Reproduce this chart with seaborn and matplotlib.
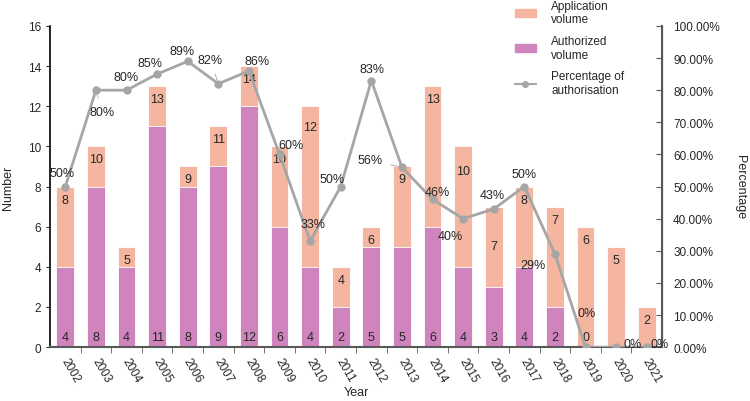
import numpy as np
import pandas as pd
import seaborn as sns
import matplotlib.pyplot as plt
import matplotlib.transforms as mtransforms
from matplotlib.patches import Patch
from matplotlib.lines import Line2D
from matplotlib.ticker import FixedLocator, PercentFormatter

years = [str(y) for y in range(2002, 2022)]
application = [8, 10, 5, 13, 9, 11, 14, 10, 12, 4, 6, 9, 13, 10, 7, 8, 7, 6, 5, 2]
authorized = [4, 8, 4, 11, 8, 9, 12, 6, 4, 2, 5, 5, 6, 4, 3, 4, 2, 0, 0, 0]
percentage = [50, 80, 80, 85, 89, 82, 86, 60, 33, 50, 83, 56, 46, 40, 43, 50, 29, 0, 0, 0]

# label placement (pixel offsets from the point)
pct_offsets = [(-3, 14), (6, -22), (0, 13), (-7, 11), (-6, 10), (-8, 24), (8, 10),
               (11, 9), (3, 17), (-9, 8), (1, 12), (-32, 7), (5, 7), (-13, -17),
               (-1, 14), (0, 13), (-22, -11), (1, 34), (16, 3), (13, 3)]
pct_leader = {1, 5, 11, 13, 16, 18}
top_drop = {8: 21, 13: 25, 14: 39}

df = pd.DataFrame({"year": years, "application": application,
                   "authorized": authorized, "percentage": percentage})
df["idx"] = np.arange(len(df))

plt.rcParams["font.family"] = ["Liberation Sans", "DejaVu Sans"]
text_c = "#262626"
app_c = "#F4B6A0"
aut_c = "#D084BE"
line_c = "#A6A6A6"
fs = 9

fig = plt.figure(figsize=(7.5, 4.02), dpi=100)
ax = fig.add_axes([0.0667, 0.134, 0.816, 0.799])

sns.barplot(data=df, x="year", y="application", color=app_c, width=0.58,
            saturation=1, ax=ax)
sns.barplot(data=df, x="year", y="authorized", color=aut_c, width=0.58,
            saturation=1, ax=ax)
for p in ax.patches:
    p.set_edgecolor("white")
    p.set_linewidth(0.6)

ax2 = ax.twinx()
sns.lineplot(data=df, x="idx", y="percentage", color=line_c, lw=2.0,
             marker="o", markersize=6, markeredgewidth=0, ax=ax2)

ax.set_xlim(-0.5, len(years) - 0.5)
ax.set_ylim(0, 16)
ax.set_yticks(range(0, 17, 2))
ax2.set_ylim(0, 100)
ax2.set_yticks(range(0, 101, 10))
ax2.yaxis.set_major_formatter(PercentFormatter(decimals=2))

# bar value labels
for i in range(len(years)):
    drop = top_drop.get(i, 13)
    ax.annotate(str(application[i]), (i, application[i]), xytext=(0, -drop),
                textcoords="offset pixels", ha="center", va="center",
                fontsize=fs, color=text_c)
    if i < 18:
        ax.annotate(str(authorized[i]), (i, 0), xytext=(0, 10),
                    textcoords="offset pixels", ha="center", va="center",
                    fontsize=fs, color=text_c)

# percentage labels
for i in range(len(years)):
    dx, dy = pct_offsets[i]
    arrow = dict(arrowstyle="-", color=line_c, lw=0.6, shrinkA=4, shrinkB=3) if i in pct_leader else None
    ax2.annotate(f"{percentage[i]}%", (i, percentage[i]), xytext=(dx, dy),
                 textcoords="offset pixels", ha="center", va="center",
                 fontsize=fs, color=text_c, arrowprops=arrow)

ax.spines["top"].set_visible(False)
ax2.spines["top"].set_visible(False)
ax.spines["left"].set_color("black")
ax.spines["bottom"].set_color("#595959")
ax2.spines["right"].set_color("#595959")
ax2.spines["right"].set_linewidth(1.5)
ax.spines["bottom"].set_linewidth(1.5)
ax.spines["left"].set_linewidth(1.2)
ax2.spines["left"].set_visible(False)
ax2.spines["bottom"].set_visible(False)

ax.xaxis.set_major_locator(FixedLocator(range(len(years))))
ax.set_xticklabels(years, rotation=-60, ha="left", rotation_mode="anchor")
ax.tick_params(axis="x", length=0, labelsize=8.5, colors=text_c, pad=6)
shift = mtransforms.ScaledTranslation(4 / 100, 0, fig.dpi_scale_trans)
for lab in ax.get_xticklabels():
    lab.set_transform(lab.get_transform() + shift)
ax.xaxis.set_minor_locator(FixedLocator(np.arange(0.5, len(years) - 1, 1.0)))
ax.tick_params(axis="x", which="minor", length=4, color="#595959", direction="out")
ax.tick_params(axis="y", length=3, labelsize=8.5, colors=text_c)
ax2.tick_params(axis="y", length=4, direction="in", labelsize=8.5,
                colors=text_c, color="#595959", pad=8)

ax.set_xlabel("Year", fontsize=9, color=text_c, labelpad=1)
ax.set_ylabel("Number", fontsize=9, color=text_c, labelpad=10)
ax2.set_ylabel("Percentage", fontsize=9, color=text_c, rotation=270, labelpad=19)

handles = [Patch(color=app_c), Patch(color=aut_c),
           Line2D([], [], color=line_c, lw=1.5, marker="o", markersize=4)]
labels = ["Application\nvolume", "Authorized\nvolume", "Percentage of\nauthorisation"]
fig.legend(handles, labels, loc="upper left", bbox_to_anchor=(0.672, 1.025),
           frameon=False, fontsize=8.5, handlelength=1.8, handleheight=0.6,
           labelspacing=0.8, handletextpad=1.3, labelcolor=text_c)

fig.savefig("out.png", dpi=100)
